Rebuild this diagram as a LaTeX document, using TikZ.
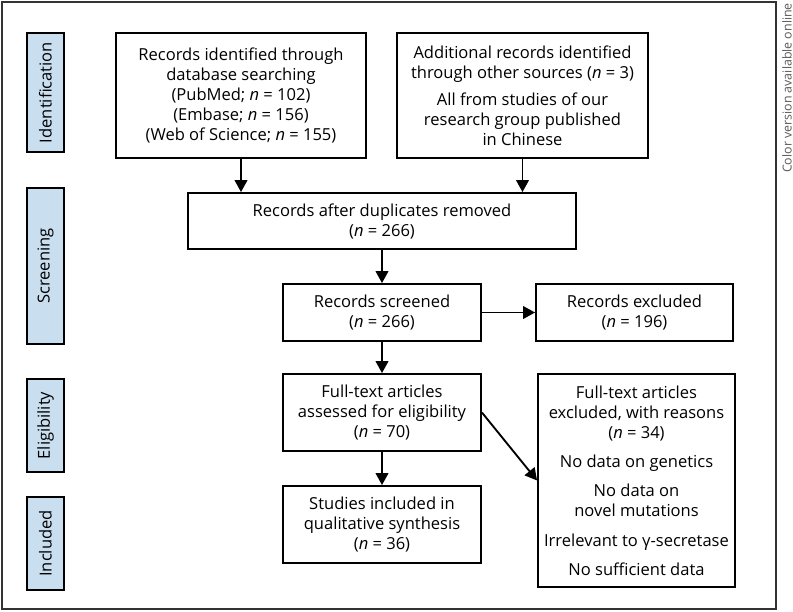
\documentclass[tikz,border=0pt]{standalone}
\usepackage{fontspec}
\setmainfont{Open Sans}
\usetikzlibrary{arrows.meta}
\definecolor{phaseblue}{RGB}{201,223,240}
\begin{document}
\begin{tikzpicture}[x=0.75pt,y=-0.75pt,font=\fontsize{12.4}{15}\selectfont,
	box/.style={draw,line width=1.4pt,inner sep=0pt,align=center},
	phase/.style={draw,line width=1.4pt,fill=phaseblue,inner sep=0pt,rotate=90,minimum height=27.75pt},
	arr/.style={line width=1.4pt,-{Triangle[length=9pt,width=9.5pt]}}]
	\useasboundingbox (0,0) rectangle (793,611);
	\draw[line width=0.8pt,black!80] (2,2) rectangle (776,609);
	\node[rotate=90,text=black!65,font=\fontsize{9.3}{10}\selectfont] (note) at (787,88) {Color version available online};
	\node[phase,minimum width=89.25pt] (ident) at (45.5,92.5) {Identification};
	\node[phase,minimum width=117pt] (screen) at (45.5,266) {Screening};
	\node[phase,minimum width=69.75pt] (elig) at (45.5,425.5) {Eligibility};
	\node[phase,minimum width=69.75pt] (incl) at (45.5,543.5) {Included};
	\node[box,minimum width=187.5pt,minimum height=93.75pt] (dbs) at (241,95.5)
		{Records identified through\\database searching\\(PubMed; \textit{n} = 102)\\(Embase; \textit{n} = 156)\\(Web of Science; \textit{n} = 155)};
	\node[box,minimum width=188.25pt,minimum height=93.75pt] (other) at (522.5,95.5)
		{Additional records identified\\through other sources (\textit{n} = 3)\\[5pt]All from studies of our\\research group published\\in Chinese};
	\node[box,minimum width=291pt,minimum height=42pt] (dup) at (382,221)
		{Records after duplicates removed\\(\textit{n} = 266)};
	\node[box,minimum width=148.5pt,minimum height=42.75pt] (screened) at (382,312.5)
		{Records screened\\(\textit{n} = 266)};
	\node[box,minimum width=147.75pt,minimum height=42.75pt] (excl) at (634.5,312.5)
		{Records excluded\\(\textit{n} = 196)};
	\node[box,minimum width=148.5pt,minimum height=57.75pt] (full) at (382,412.5)
		{Full-text articles\\assessed for eligibility\\(\textit{n} = 70)};
	\node[box,minimum width=148.5pt,minimum height=57.75pt] (studies) at (382,524.5)
		{Studies included in\\qualitative synthesis\\(\textit{n} = 36)};
	\node[box,minimum width=147.75pt,minimum height=159.75pt] (reasons) at (636.5,480.5)
		{Full-text articles\\excluded, with reasons\\(\textit{n} = 34)\\[7pt]No data on genetics\\[7pt]No data on\\novel mutations\\[7pt]Irrelevant to γ-secretase\\[7pt]No sufficient data};
	\draw[arr] (dbs.south) -- (dbs.south |- dup.north);
	\draw[arr] (other.south) -- (other.south |- dup.north);
	\draw[arr] (dup) -- (screened);
	\draw[arr] (screened) -- (excl);
	\draw[arr] (screened) -- (full);
	\draw[arr] (full) -- (studies);
	\draw[arr] (full.east) -- (reasons.west);
\end{tikzpicture}
\end{document}
